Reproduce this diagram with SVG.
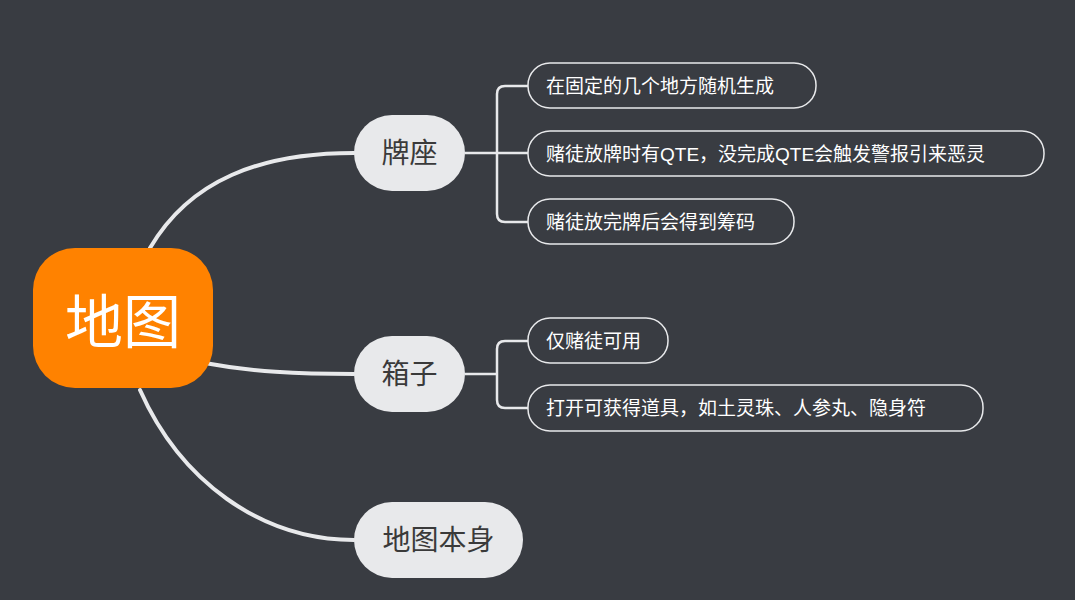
<svg xmlns="http://www.w3.org/2000/svg" width="1075" height="600" viewBox="0 0 1075 600">
<style>
.c{fill:none;stroke:#E8E9EB;stroke-width:4;stroke-linecap:round}
.s{fill:none;stroke:#E8E9EB;stroke-width:2.5}
.b{fill:#E8E9EB}
.bt{font-family:"Liberation Sans","Noto Sans CJK SC",sans-serif;font-size:28px;fill:#3a3a3a;text-anchor:middle;dominant-baseline:central}
.l{fill:none;stroke:#E8E9EB;stroke-width:1.5}
.lt{font-family:"Liberation Sans","Noto Sans CJK SC",sans-serif;font-size:19px;fill:#ffffff;dominant-baseline:central}
</style>
<rect width="1075" height="600" fill="#393C42"/>
<g id="connectors">
<path class="c" d="M150,248 C190,180 260,153 354,153"/>
<path class="c" d="M200,362 C250,372 300,374 354,374"/>
<path class="c" d="M140,390 C180,480 260,540 354,540"/>
<path class="s" d="M465,153 H497 M528,86 H505 Q497,86 497,94 V214 Q497,222 505,222 H528 M497,153 H528"/>
<path class="s" d="M465,374 H497 M528,341 H505 Q497,341 497,349 V400 Q497,408 505,408 H528"/>
</g>
<g id="root"><rect x="33" y="248" width="180" height="140" rx="42" fill="#FF8200"/><text x="123" y="322" font-family="Liberation Sans,Noto Sans CJK SC,sans-serif" font-size="58" fill="#fff" text-anchor="middle" dominant-baseline="central">地图</text></g>
<g id="n1"><rect class="b" x="354" y="115" width="111" height="76" rx="38"/><text class="bt" x="409.5" y="153">牌座</text></g>
<g id="n2"><rect class="b" x="354" y="336" width="111" height="76" rx="38"/><text class="bt" x="409.5" y="374">箱子</text></g>
<g id="n3"><rect class="b" x="354" y="502" width="169" height="76" rx="38"/><text class="bt" x="438.5" y="540">地图本身</text></g>
<g id="l1"><rect class="l" x="528" y="63" width="288" height="45" rx="22"/><text class="lt" x="546" y="86">在固定的几个地方随机生成</text></g>
<g id="l2"><rect class="l" x="528" y="131" width="516" height="45" rx="22"/><text class="lt" x="546" y="154">赌徒放牌时有QTE，没完成QTE会触发警报引来恶灵</text></g>
<g id="l3"><rect class="l" x="528" y="199" width="266" height="45" rx="22"/><text class="lt" x="546" y="222">赌徒放完牌后会得到筹码</text></g>
<g id="l4"><rect class="l" x="528" y="318" width="140" height="45" rx="22"/><text class="lt" x="546" y="341">仅赌徒可用</text></g>
<g id="l5"><rect class="l" x="528" y="385" width="455" height="46" rx="22"/><text class="lt" x="546" y="408">打开可获得道具，如土灵珠、人参丸、隐身符</text></g>
</svg>
